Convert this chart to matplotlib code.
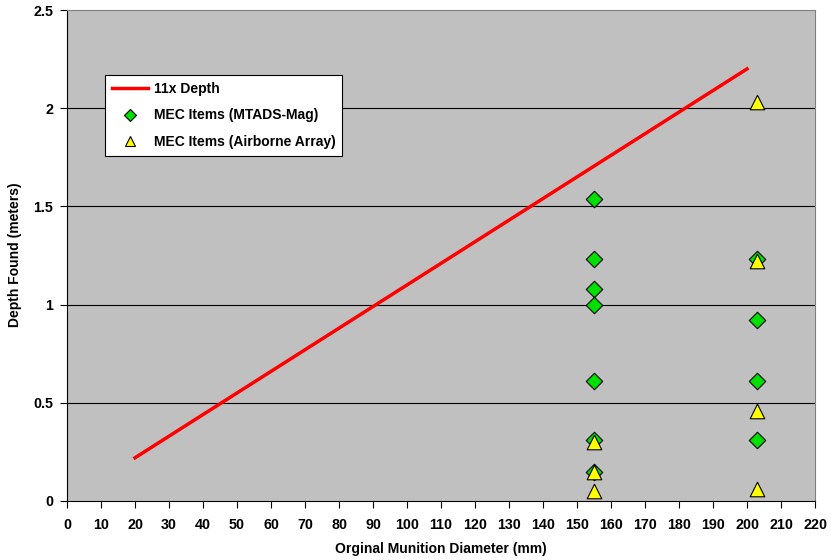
import matplotlib
matplotlib.use("Agg")
import matplotlib.pyplot as plt
from matplotlib.lines import Line2D

# Data
line_x = [20, 200]
line_y = [0.22, 2.2]
mtads_x = [155, 155, 155, 155, 155, 155, 155, 203, 203, 203, 203]
mtads_y = [1.54, 1.23, 1.08, 1.00, 0.61, 0.31, 0.15, 1.23, 0.92, 0.61, 0.31]
air_x = [155, 155, 155, 203, 203, 203, 203]
air_y = [0.30, 0.15, 0.05, 2.03, 1.22, 0.46, 0.06]
xticks = list(range(0, 221, 10))
yticks = [0, 0.5, 1, 1.5, 2, 2.5]
ytick_labels = ["0", "0.5", "1", "1.5", "2", "2.5"]

plt.rcParams['font.family'] = ['Liberation Sans', 'DejaVu Sans']
plt.rcParams['font.weight'] = 'bold'

fig = plt.figure(figsize=(8.31, 5.6), dpi=100)
ax = fig.add_axes([67/831, 1 - 501/560, (815-67)/831, (501-10)/560])
ax.set_facecolor('#C0C0C0')

ax.plot(line_x, line_y, color='#FF0000', lw=2.5, zorder=3)
ax.scatter(mtads_x, mtads_y, marker='D', s=70, facecolor='#00E000', edgecolor='black', linewidths=0.8, zorder=4)
ax.scatter(air_x, air_y, marker='^', s=110, facecolor='#FFFF00', edgecolor='black', linewidths=0.8, zorder=5)

ax.set_xlim(0, 220)
ax.set_ylim(0, 2.5)
ax.set_xticks(xticks)
ax.set_xticklabels([str(t) for t in xticks], fontsize=10.3, fontweight='bold')
ax.set_yticks(yticks)
ax.set_yticklabels(ytick_labels, fontsize=10.3, fontweight='bold')
ax.tick_params(direction='out', length=5, width=0.8, color='black', pad=5)
ax.tick_params(axis='x', pad=7)
for y in [0.5, 1, 1.5, 2]:
    ax.axhline(y, color='black', lw=0.8, zorder=1)
for s in ['top', 'right']:
    ax.spines[s].set_color('#808080')
    ax.spines[s].set_linewidth(0.8)
for s in ['left', 'bottom']:
    ax.spines[s].set_color('black')
    ax.spines[s].set_linewidth(0.8)

ax.set_xlabel('Orginal Munition Diameter (mm)', fontsize=10, fontweight='bold', va='center')
ax.xaxis.set_label_coords((441-67)/748, (501-549)/491)
ax.set_ylabel('Depth Found (meters)', fontsize=10, fontweight='bold', va='center')
ax.yaxis.set_label_coords((15-67)/748, (501-255)/491)

handles = [
    Line2D([], [], color='#FF0000', lw=2.5),
    Line2D([], [], marker='D', ls='none', markersize=6, markerfacecolor='#00E000', markeredgecolor='black', markeredgewidth=0.8),
    Line2D([], [], marker='^', ls='none', markersize=7, markerfacecolor='#FFFF00', markeredgecolor='black', markeredgewidth=0.8),
]
labels = ['11x Depth', 'MEC Items (MTADS-Mag)', 'MEC Items (Airborne Array)']
leg = ax.legend(handles, labels, loc='upper left', bbox_to_anchor=((105-67)/748, (501-75)/491),
                fancybox=False, frameon=True, edgecolor='black', facecolor='white', framealpha=1,
                prop={'weight': 'bold', 'size': 10}, handlelength=2.6, borderpad=0.5,
                labelspacing=0.9, handletextpad=0.4, borderaxespad=0)
leg.get_frame().set_linewidth(0.8)

fig.savefig('out.png', dpi=100)
